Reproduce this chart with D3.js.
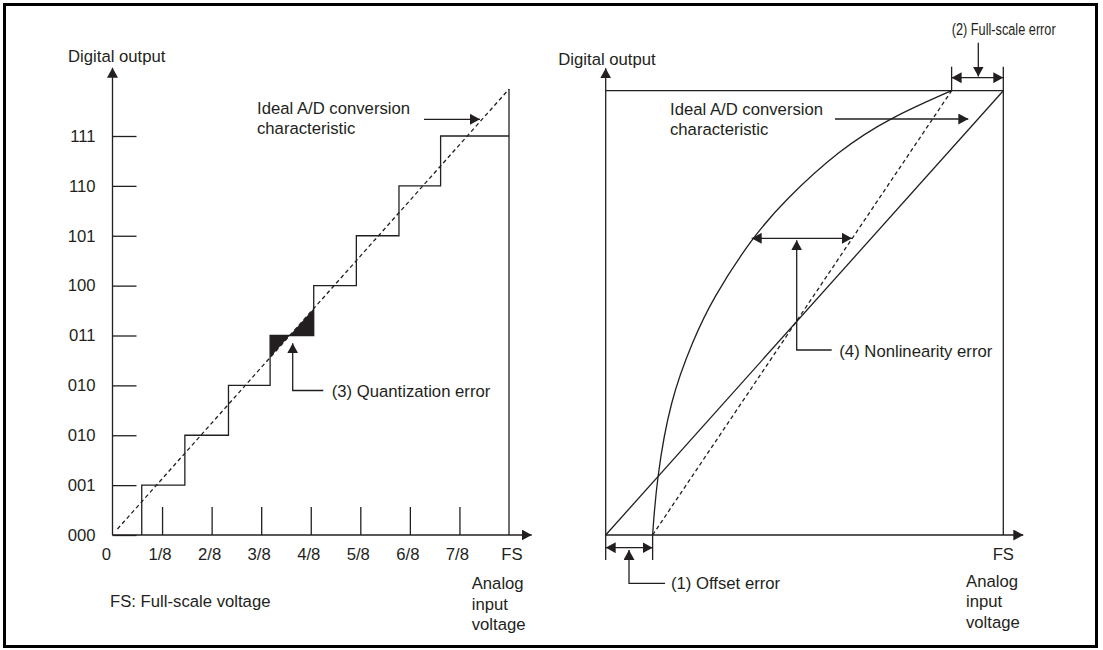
<!DOCTYPE html>
<html>
<head>
<meta charset="utf-8">
<script src="https://cdn.jsdelivr.net/npm/d3@7"></script>
<style>
  body { margin: 0; background: #fff; }
  svg text { font-family: "Liberation Sans", Arial, sans-serif; font-size: 16.7px; fill: #231f20; }
</style>
</head>
<body>
<svg id="chart" width="1103" height="650"></svg>
<script>
// left panel: output codes as printed (the 010 really is there twice)
const codeLabels = ["000", "001", "010", "010", "011", "100", "101", "110", "111"];
const voltLabels = ["0", "1/8", "2/8", "3/8", "4/8", "5/8", "6/8", "7/8", "FS"];
// input voltage (in FS/8) where the output steps up to the next code
const stepEdges = [0.59, 1.46, 2.34, 3.18, 4.06, 4.92, 5.78, 6.62];
// ideal characteristic on the left (x in FS/8, y in codes)
const idealLeft = [[0.1, 0.12], [8, 8.94]];
const quantStep = 3; // the step whose error gets shaded

// right panel, normalised to FS / full code
const idealRight = [[0, 0], [1, 1]];
const offsetErr = 0.118;
const fullScaleEnd = 0.87;
const actualCurve = [
  [0.118, 0], [0.128, 0.124], [0.162, 0.304], [0.220, 0.439], [0.267, 0.529],
  [0.367, 0.668], [0.451, 0.754], [0.588, 0.867], [0.715, 0.939], [0.870, 1.0]
];

const ink = "#231f20";
const svg = d3.select("#chart");

svg.append("defs").append("marker")
  .attr("id", "head")
  .attr("viewBox", "0 -5.5 10 11")
  .attr("refX", 10).attr("refY", 0)
  .attr("markerWidth", 10).attr("markerHeight", 11)
  .attr("markerUnits", "userSpaceOnUse")
  .attr("orient", "auto-start-reverse")
  .append("path").attr("d", "M0,-5.5L10,0L0,5.5Z").attr("fill", ink);

// outer frame
svg.append("rect")
  .attr("x", 4.5).attr("y", 4.5).attr("width", 1092).attr("height", 642)
  .attr("fill", "none").attr("stroke", "#000").attr("stroke-width", 3);

function line(g, pts, opts = {}) {
  return g.append("path")
    .attr("d", d3.line()(pts))
    .attr("fill", "none")
    .attr("stroke", ink)
    .attr("stroke-width", opts.w || 1.3)
    .attr("stroke-dasharray", opts.dash || null)
    .attr("marker-end", opts.end ? "url(#head)" : null)
    .attr("marker-start", opts.start ? "url(#head)" : null);
}

function label(g, x, y, txt, anchor) {
  return g.append("text").attr("x", x).attr("y", y)
    .attr("text-anchor", anchor || "start").text(txt);
}

// ---------------- left panel ----------------
const xL = d3.scaleLinear().domain([0, 8]).range([112.5, 509]);
const yL = d3.scaleLinear().domain([0, 8]).range([535, 136]);
const left = svg.append("g");

// ticks
left.append("g")
  .attr("transform", `translate(${xL(0)},0)`)
  .call(d3.axisLeft(yL).tickValues(d3.range(9)).tickFormat(i => codeLabels[i])
    .tickSizeInner(-24).tickSizeOuter(0).tickPadding(17))
  .call(g => g.select(".domain").remove())
  .call(g => g.selectAll("line").attr("stroke", ink).attr("stroke-width", 1.3))
  .call(g => g.selectAll("text").attr("font-size", null).attr("font-family", null));

left.append("g")
  .attr("transform", `translate(0,${yL(0)})`)
  .call(d3.axisBottom(xL).tickValues(d3.range(1, 8)).tickFormat("")
    .tickSizeInner(-28).tickSizeOuter(0))
  .call(g => g.select(".domain").remove())
  .call(g => g.selectAll("line").attr("stroke", ink).attr("stroke-width", 1.3));

left.selectAll(".vl").data(voltLabels).join("text")
  .attr("x", (d, i) => xL(i) + (i === 0 ? -6 : i === 8 ? 3 : -2))
  .attr("y", 560)
  .attr("text-anchor", "middle")
  .text(d => d);

// axes
line(left, [[xL(0), yL(0)], [xL(0), 67.7]], { end: true });
line(left, [[xL(0), yL(0)], [531.7, yL(0)]], { end: true });

// FS vertical
line(left, [[xL(8), yL(0)], [xL(8), yL(idealLeft[1][1])]]);

// staircase
const stairs = [[stepEdges[0], 0]];
stepEdges.forEach((s, i) => {
  const next = i + 1 < stepEdges.length ? stepEdges[i + 1] : 8;
  stairs.push([s, i + 1], [next, i + 1]);
});
line(left, stairs.map(d => [xL(d[0]), yL(d[1])]));

// ideal (dashed)
line(left, idealLeft.map(d => [xL(d[0]), yL(d[1])]), { dash: "4,3" });

// quantisation error shading
const [[ix0, iy0], [ix1, iy1]] = idealLeft;
const ideal = x => iy0 + (x - ix0) * (iy1 - iy0) / (ix1 - ix0);
const lvl = quantStep + 1;
const sA = stepEdges[quantStep], sB = stepEdges[quantStep + 1];
const cross = ix0 + (lvl - iy0) * (ix1 - ix0) / (iy1 - iy0);
[[[sA, lvl], [cross, lvl], [sA, ideal(sA)]], [[cross, lvl], [sB, lvl], [sB, ideal(sB)]]]
  .forEach(tri => {
    left.append("path")
      .attr("d", d3.line()(tri.map(d => [xL(d[0]), yL(d[1])])) + "Z")
      .attr("fill", ink);
  });

// annotations
label(left, 68, 61.5, "Digital output");
label(left, 257, 114, "Ideal A/D conversion");
label(left, 257, 134, "characteristic");
line(left, [[424, 119.3], [480, 119.3]], { end: true });

line(left, [[323.3, 390.5], [292.7, 390.5], [292.7, 343.3]], { end: true });
label(left, 331.7, 397, "(3) Quantization error");

label(left, 110, 606.5, "FS: Full-scale voltage");
label(left, 471.7, 589, "Analog");
label(left, 471.7, 609.5, "input");
label(left, 471.7, 630, "voltage");

// ---------------- right panel ----------------
const xR = d3.scaleLinear().domain([0, 1]).range([605.7, 1003.3]);
const yR = d3.scaleLinear().domain([0, 1]).range([535, 90.7]);
const right = svg.append("g");
const P = d => [xR(d[0]), yR(d[1])];

line(right, [[xR(0), 560], [xR(0), 68.3]], { end: true });
line(right, [[xR(0), yR(0)], [1023.3, yR(0)]], { end: true });
line(right, [P([0, 1]), P([1, 1])]);
line(right, [[xR(1), yR(0)], [xR(1), 66.7]]);

line(right, idealRight.map(P));
line(right, [P([offsetErr, 0]), P([fullScaleEnd, 1])], { dash: "4,3" });
right.append("path")
  .attr("d", d3.line().curve(d3.curveBasis)(actualCurve.map(P)))
  .attr("fill", "none").attr("stroke", ink).attr("stroke-width", 1.3);

// full-scale error
line(right, [[xR(fullScaleEnd), yR(1)], [xR(fullScaleEnd), 66.7]]);
line(right, [[xR(fullScaleEnd), 77.7], [xR(1), 77.7]], { start: true, end: true });
line(right, [[978.3, 42.7], [978.3, 76.5]], { end: true });
label(right, 951.7, 35, "(2) Full-scale error")
  .attr("textLength", 104).attr("lengthAdjust", "spacingAndGlyphs");

// offset error
line(right, [[xR(offsetErr), yR(0)], [xR(offsetErr), 560]]);
line(right, [[xR(0), 547.7], [xR(offsetErr), 547.7]], { start: true, end: true });
line(right, [[665, 583.3], [629, 583.3], [629, 550]], { end: true });
label(right, 671, 589, "(1) Offset error");

// nonlinearity error
line(right, [[751.7, 238.3], [852, 238.3]], { start: true, end: true });
line(right, [[831.7, 350], [796.7, 350], [796.7, 240.3]], { end: true });
label(right, 839.3, 356.7, "(4) Nonlinearity error");

// ideal label
label(right, 670, 115, "Ideal A/D conversion");
label(right, 670, 135, "characteristic");
line(right, [[835, 119], [968.3, 119]], { end: true });

label(right, 558.3, 65, "Digital output");
label(right, xR(1), 560, "FS", "middle");
label(right, 966, 587, "Analog");
label(right, 966, 607, "input");
label(right, 966, 627.5, "voltage");
</script>
</body>
</html>
